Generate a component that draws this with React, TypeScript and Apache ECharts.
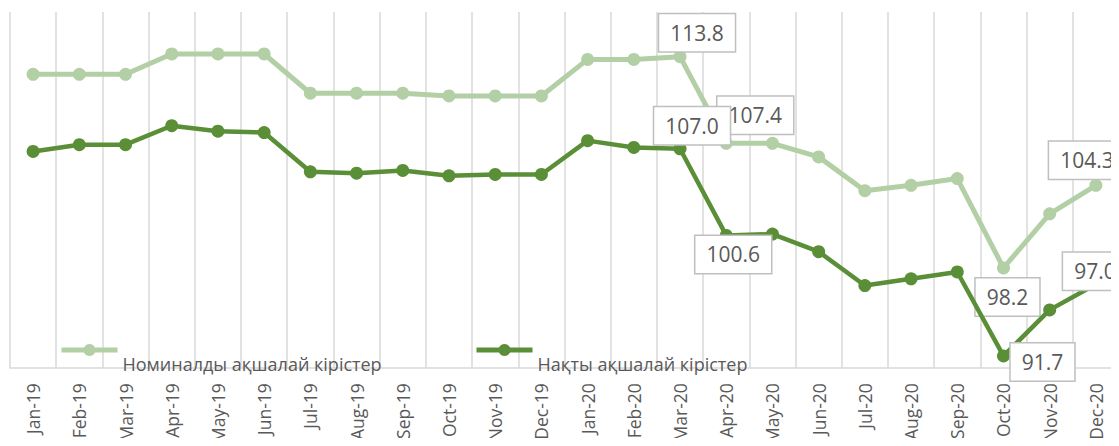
import React, { useEffect, useRef } from "react";
import * as echarts from "echarts";

const categories = [
  "Jan-19", "Feb-19", "Mar-19", "Apr-19", "May-19", "Jun-19",
  "Jul-19", "Aug-19", "Sep-19", "Oct-19", "Nov-19", "Dec-19",
  "Jan-20", "Feb-20", "Mar-20", "Apr-20", "May-20", "Jun-20",
  "Jul-20", "Aug-20", "Sep-20", "Oct-20", "Nov-20", "Dec-20",
];

const nominalName = "Номиналды ақшалай кірістер";
const realName = "Нақты ақшалай кірістер";

const nominalValues = [
  112.5, 112.5, 112.5, 114.0, 114.0, 114.0,
  111.1, 111.1, 111.1, 110.9, 110.9, 110.9,
  113.6, 113.6, 113.8, 107.4, 107.4, 106.4,
  103.9, 104.3, 104.8, 98.2, 102.2, 104.3,
];

const realValues = [
  106.8, 107.3, 107.3, 108.7, 108.3, 108.2,
  105.3, 105.2, 105.4, 105.0, 105.1, 105.1,
  107.6, 107.1, 107.0, 100.6, 100.7, 99.4,
  96.9, 97.4, 97.9, 91.7, 95.1, 97.0,
];

// index -> label offset [dx, dy] from the point
const nominalLabels: Record<number, [number, number]> = {
  14: [17, -24],
  15: [29, -28],
  21: [4, 29],
  23: [-9, -25],
};
const realLabels: Record<number, [number, number]> = {
  14: [12, -23],
  15: [7, 19],
  21: [39, 6],
  23: [-1, -13],
};

const LIGHT = "#B3CFA5";
const DARK = "#5A8F37";
const TEXT = "#595959";
const FONT = "'Open Sans', 'Noto Sans', sans-serif";

function buildData(values: number[], labels: Record<number, [number, number]>) {
  return values.map((v, i) =>
    labels[i]
      ? { value: v, label: { show: true, offset: labels[i] } }
      : { value: v }
  );
}

const labelStyle = {
  show: false,
  position: "inside",
  formatter: (p: any) => Number(p.value).toFixed(1),
  backgroundColor: "#ffffff",
  borderColor: "#BFBFBF",
  borderWidth: 1.5,
  padding: [8, 11, 8, 11],
  color: TEXT,
  fontSize: 21,
  lineHeight: 21,
  fontFamily: FONT,
};

export default function App() {
  const ref = useRef<HTMLDivElement>(null);
  useEffect(() => {
    if (!ref.current) return;
    const chart = echarts.init(ref.current, undefined, { renderer: "svg" });
    const legendCommon = {
      top: 344,
      itemWidth: 56,
      itemHeight: 15,
      itemGap: 0,
      padding: 0,
      lineStyle: { width: 5 },
      formatter: "{t|{name}}",
      textStyle: {
        color: TEXT,
        fontSize: 18,
        fontFamily: FONT,
        rich: {
          t: {
            color: TEXT,
            fontSize: 18,
            fontFamily: FONT,
            padding: [28, 0, 0, 0],
          },
        },
      },
    };
    chart.setOption({
      animation: false,
      backgroundColor: "#ffffff",
      grid: { left: 10, right: -7, top: 12, bottom: 76, containLabel: false },
      legend: [
        { ...legendCommon, data: [nominalName], left: 59 },
        { ...legendCommon, data: [realName], left: 474 },
      ],
      xAxis: {
        type: "category",
        data: categories,
        boundaryGap: true,
        axisLine: { show: true, lineStyle: { color: "#D9D9D9", width: 1.5 } },
        axisTick: { show: false },
        splitLine: { show: true, lineStyle: { color: "#D9D9D9", width: 1.5 } },
        axisLabel: {
          rotate: 90,
          interval: 0,
          margin: 15,
          color: TEXT,
          fontSize: 17.5,
          fontFamily: FONT,
        },
      },
      yAxis: {
        type: "value",
        min: 90.8,
        max: 117.1,
        show: false,
        splitLine: { show: false },
      },
      series: [
        {
          name: nominalName,
          type: "line",
          data: buildData(nominalValues, nominalLabels),
          symbol: "circle",
          symbolSize: 13,
          lineStyle: { color: LIGHT, width: 5 },
          itemStyle: { color: LIGHT },
          label: labelStyle,
          z: 2,
        },
        {
          name: realName,
          type: "line",
          data: buildData(realValues, realLabels),
          symbol: "circle",
          symbolSize: 13,
          lineStyle: { color: DARK, width: 4.5 },
          itemStyle: { color: DARK },
          label: labelStyle,
          z: 3,
        },
      ],
    });
    return () => chart.dispose();
  }, []);
  return <div ref={ref} style={{ width: 1119, height: 446, margin: -8 }} />;
}
